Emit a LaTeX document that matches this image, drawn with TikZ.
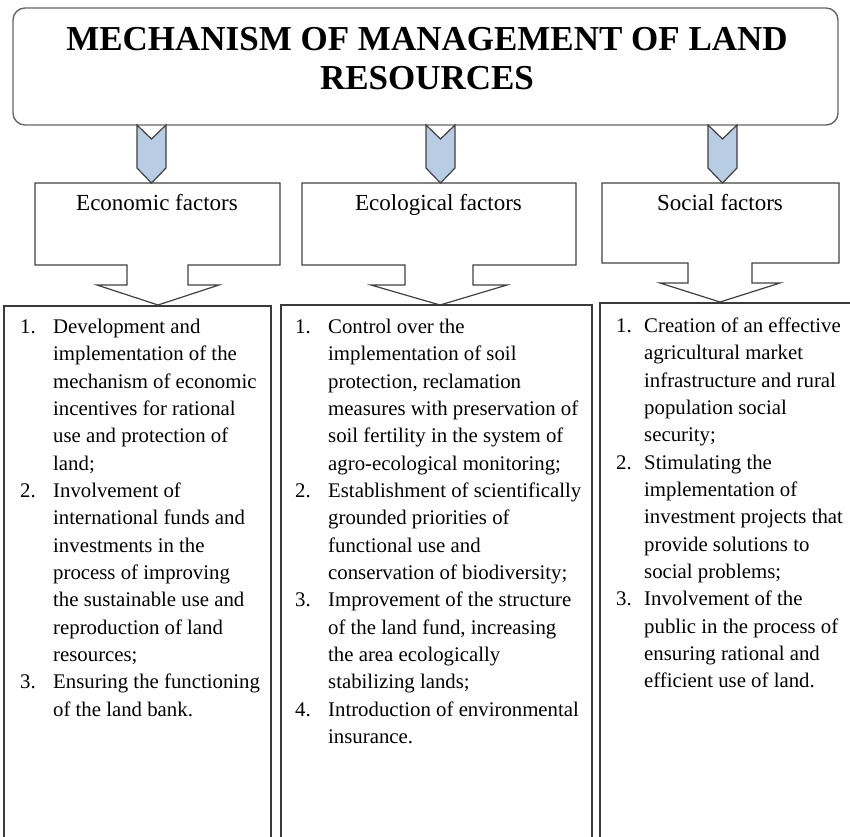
\documentclass[tikz,border=0pt]{standalone}
\usepackage{fontspec}
\setmainfont{Liberation Serif}
\definecolor{chevblue}{RGB}{184,204,228}
\definecolor{edge}{RGB}{64,64,64}

\begin{document}
\begin{tikzpicture}[x=1pt, y=-1pt,
    outline/.style={draw=edge, line width=1.2pt, line join=miter},
    chevron/.style={outline, fill=chevblue},
    listbox/.style={draw=edge!90!black, line width=1.4pt},
    head/.style={anchor=base, inner sep=0pt, font=\fontsize{23}{27}\selectfont},
    list/.style={anchor=north west, inner sep=0pt, font=\fontsize{20.8}{27.35}\selectfont}]
    \clip (0,0) rectangle (850,836);

    \draw[draw=edge!80, line width=1.4pt, rounded corners=12pt] (13,8) rectangle (838,125);
    \node[inner sep=0pt, align=center, font=\fontsize{35}{39.5}\selectfont\bfseries] (0) at (427,58.5) {MECHANISM OF MANAGEMENT OF LAND\\RESOURCES};

    \draw[chevron] (137,125) -- (151.5,139) -- (166,125) -- (166,168) -- (151.5,183) -- (137,168) -- cycle;
    \draw[chevron] (426,125) -- (440.5,139) -- (455,125) -- (455,168) -- (440.5,183) -- (426,168) -- cycle;
    \draw[chevron] (708,125) -- (722.5,139) -- (737,125) -- (737,168) -- (722.5,183) -- (708,168) -- cycle;

    \draw[outline] (35,183) -- (280,183) -- (280,265) -- (188,265) -- (188,285) -- (219,285) -- (158,305)
        -- (97,285) -- (127,285) -- (127,265) -- (35,265) -- cycle;
    \draw[outline] (302,183) -- (576,183) -- (576,265) -- (473,265) -- (473,285) -- (507,285) -- (440,305)
        -- (371,285) -- (405,285) -- (405,265) -- (302,265) -- cycle;
    \draw[outline] (602,183) -- (839,183) -- (839,263) -- (752,263) -- (752,283) -- (780,283) -- (720,302)
        -- (660,283) -- (688,283) -- (688,263) -- (602,263) -- cycle;
    \node[head] (1) at (157,210) {Economic factors};
    \node[head] (2) at (438.5,210) {Ecological factors};
    \node[head] (3) at (720,210) {Social factors};

    \draw[listbox] (4,306) rectangle (271,850);
    \draw[listbox] (281,305) rectangle (592,850);
    \draw[listbox] (600,303) rectangle (860,850);

    \node[list] (4) at (20,314) {\begin{tabular}{@{}p{33pt}@{}l@{}}
        1. & Development and\\
           & implementation of the\\
           & mechanism of economic\\
           & incentives for rational\\
           & use and protection of\\
           & land;\\
        2. & Involvement of\\
           & international funds and\\
           & investments in the\\
           & process of improving\\
           & the sustainable use and\\
           & reproduction of land\\
           & resources;\\
        3. & Ensuring the functioning\\
           & of the land bank.
        \end{tabular}};
    \node[list] (5) at (295,314) {\begin{tabular}{@{}p{33pt}@{}l@{}}
        1. & Control over the\\
           & implementation of soil\\
           & protection, reclamation\\
           & measures with preservation of\\
           & soil fertility in the system of\\
           & agro-ecological monitoring;\\
        2. & Establishment of scientifically\\
           & grounded priorities of\\
           & functional use and\\
           & conservation of biodiversity;\\
        3. & Improvement of the structure\\
           & of the land fund, increasing\\
           & the area ecologically\\
           & stabilizing lands;\\
        4. & Introduction of environmental\\
           & insurance.
        \end{tabular}};
    \node[list] (6) at (616,313) {\begin{tabular}{@{}p{28pt}@{}l@{}}
        1. & Creation of an effective\\
           & agricultural market\\
           & infrastructure and rural\\
           & population social\\
           & security;\\
        2. & Stimulating the\\
           & implementation of\\
           & investment projects that\\
           & provide solutions to\\
           & social problems;\\
        3. & Involvement of the\\
           & public in the process of\\
           & ensuring rational and\\
           & efficient use of land.
        \end{tabular}};
\end{tikzpicture}
\end{document}
